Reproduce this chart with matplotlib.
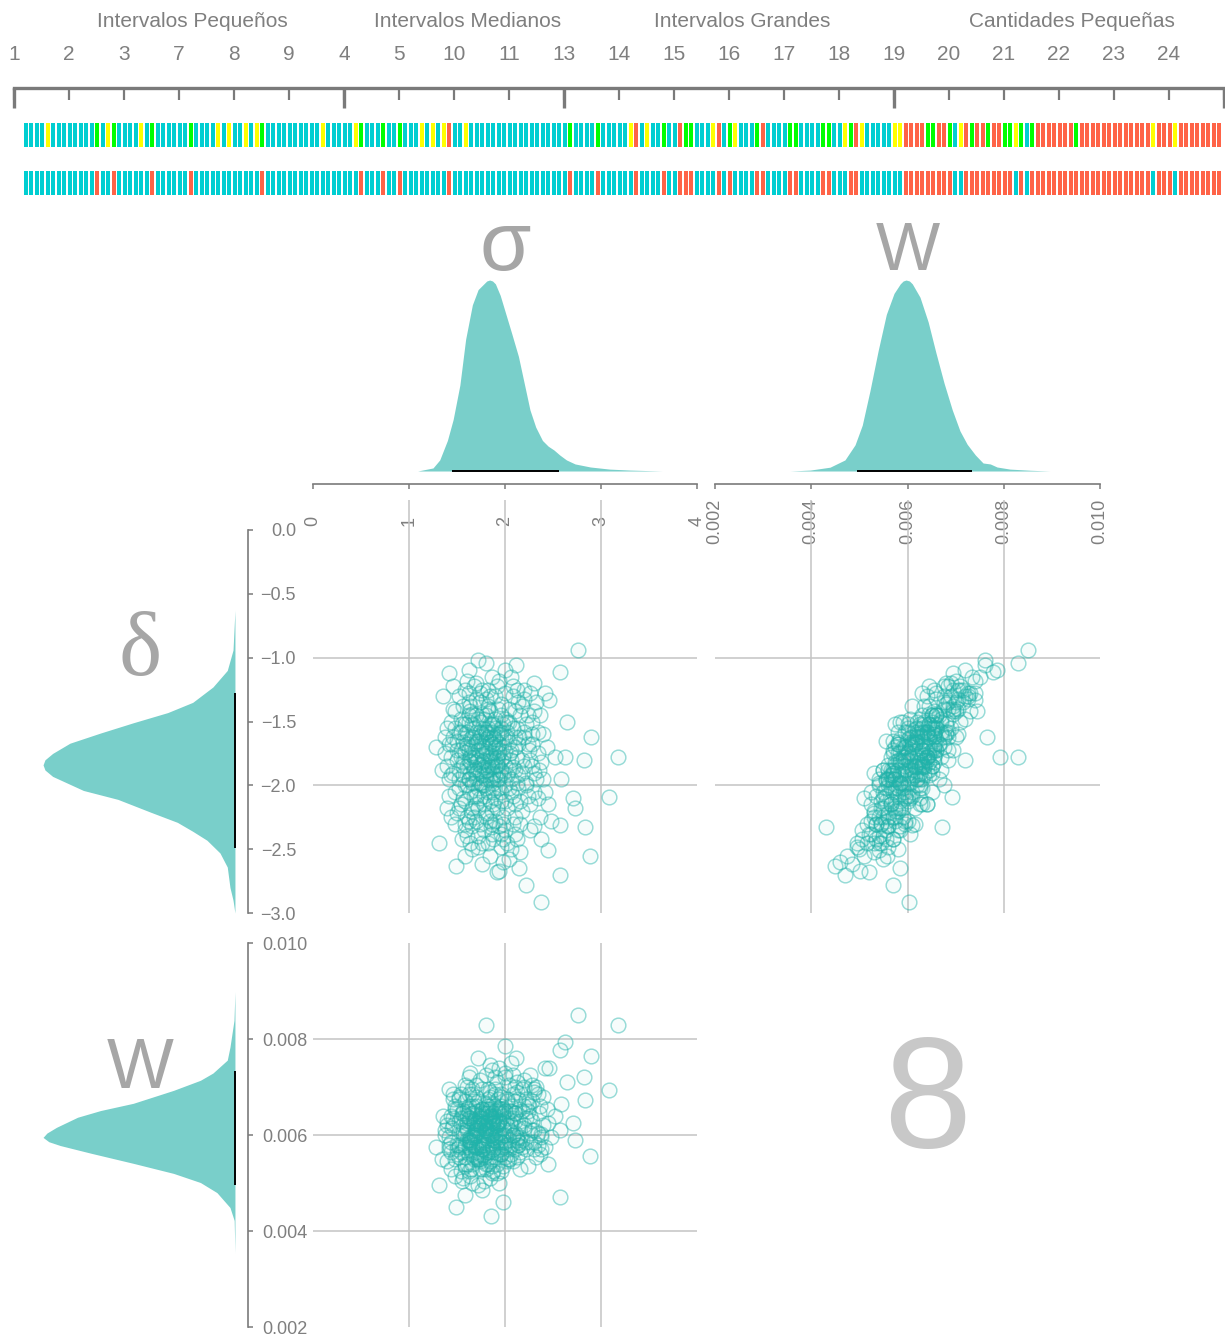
import numpy as np
import matplotlib
matplotlib.use("Agg")
import matplotlib.pyplot as plt
from matplotlib.transforms import blended_transform_factory

plt.rcParams["font.family"] = ["Liberation Sans", "DejaVu Sans"]

W_PX, H_PX = 1225, 1342

# ---------------- top strip: groups, ticks, per-case colour codes ----------------
group_names = ["Intervalos Pequeños", "Intervalos Medianos",
               "Intervalos Grandes", "Cantidades Pequeñas"]
group_edges = [0, 6, 10, 16, 22]
tick_labels = ["1", "2", "3", "7", "8", "9", "4", "5", "10", "11", "13",
               "14", "15", "16", "17", "18", "19", "20", "21", "22", "23", "24"]

row_top = ("CCCCYCCCCC" "CCCGCYGCCC" "CYCGCCCCCC" "GCCCCYCYCC" "YCYGCCCCCC"
           "CCCCYCCCCC" "YGCCCGCCGC" "CCYCYCYRCC" "YCCCCCCCCC" "CCCCCCCCCG"
           "CCCCGCCCCC" "YRCYCCGCCR" "GGCCCYRCGY" "CCCGRCCCCG" "GCCCCGGCCY"
           "GRYCCCCCYY" "RRRRGGRRGC" "YRGRRGRRGG" "YGCGRRRRRR" "RGRRRRRRRR"
           "RRRRRYRRRY" "RRRRRRRR")
row_bottom = ("CCCCCCCCCC" "CCCRCCRCCC" "CCCRCCCCCC" "RCCCCCCCCC" "CCCRCCCCCC"
              "CCCCCCCCCC" "CRCCCRCCRC" "CCCCCCCRCC" "CCCCCCCCCC" "CCCCCCCCCR"
              "CCCCRCCCCC" "CRCCCCRCCR" "RRCCCCRCRC" "CCCRRCCCCR" "RCCCCRRCCC"
              "RRCCCCCCCC" "RRRRRRRRRC" "CRRRRRRRRR" "CRCRRRRRRR" "RRRRRRRRRR"
              "RRRRRCRRRC" "RRRRRRRR")
stripe_colors = {"C": "#00CED1", "Y": "#FFFF00", "G": "#00FF00", "R": "#FF6347"}

# ---------------- posterior draws (sigma, delta, W in units of 1e-3) ----------------
# spread of the cloud, including the outlying draws
sigma_a = [1.85, 1.72, 1.95, 1.60, 2.05, 1.78, 1.90, 1.68, 2.12, 1.55,
           1.82, 1.98, 1.74, 2.20, 1.62, 1.88, 1.70, 2.02, 1.50, 1.93,
           1.80, 2.15, 1.65, 2.30, 1.58, 1.90, 1.76, 2.08, 1.45, 1.84,
           2.00, 1.70, 2.25, 1.52, 1.96, 1.62, 1.86, 2.10, 1.74, 1.40,
           2.35, 1.66, 1.92, 2.18, 1.56, 1.80, 2.04, 1.48, 1.78, 2.40,
           1.64, 1.98, 1.72, 2.26, 1.58, 1.88, 2.08, 1.44, 1.82, 2.22,
           1.68, 1.94, 1.54, 2.12, 1.76, 1.38, 2.30, 1.62, 1.90, 2.02,
           1.70, 2.45, 1.48, 1.86, 2.16, 1.60, 1.80, 2.06, 1.50, 1.96,
           1.74, 2.32, 1.42, 1.84, 2.20, 1.66, 1.92, 2.10, 1.56, 1.76,
           2.52, 1.34, 2.00, 1.68, 1.88, 2.14, 1.46, 2.38, 1.80, 1.60,
           2.06, 1.90, 1.52, 2.28, 1.72, 1.96, 1.64, 2.24, 1.82, 1.40,
           2.58, 1.70, 2.10, 1.86, 1.58, 2.42, 1.92, 1.78, 2.16, 1.54,
           1.98, 1.66, 2.34, 1.84, 1.44, 2.04, 1.74, 2.48, 1.62, 1.94,
           2.76, 3.18, 3.08, 2.89, 2.37, 1.80, 1.85, 2.57, 1.49, 1.31,
           2.62, 2.57, 2.11, 2.46, 2.83, 2.82, 1.94, 2.22, 2.71, 2.73,
           2.45, 2.57, 1.35, 1.28, 2.65, 1.72, 2.00, 2.90, 1.98, 2.30,
           1.55, 2.15, 1.42]
delta_a = [-1.80, -1.65, -1.92, -1.70, -1.75, -2.00, -1.55, -1.88, -1.98, -1.52,
           -1.62, -1.70, -2.10, -1.85, -1.95, -2.15, -1.45, -1.50, -1.80, -1.40,
           -2.25, -1.62, -2.20, -2.05, -1.60, -1.85, -1.72, -2.30, -1.68, -1.30,
           -2.12, -1.90, -1.72, -2.02, -1.58, -1.35, -2.38, -1.42, -1.58, -1.55,
           -1.88, -2.32, -1.22, -2.20, -1.85, -1.95, -1.88, -1.42, -1.48, -1.60,
           -1.78, -2.42, -2.48, -2.35, -1.25, -1.68, -1.30, -1.92, -1.38, -1.52,
           -2.08, -2.02, -2.15, -1.78, -1.82, -1.75, -1.42, -1.50, -2.28, -1.62,
           -1.20, -2.15, -2.30, -1.15, -2.52, -2.40, -1.58, -2.05, -1.65, -1.80,
           -1.35, -1.95, -2.08, -2.55, -1.32, -1.62, -1.95, -2.38, -1.38, -2.62,
           -1.78, -1.88, -1.48, -1.78, -2.05, -1.68, -1.22, -2.42, -1.88, -2.25,
           -1.15, -1.72, -1.95, -1.60, -2.18, -2.48, -1.42, -2.08, -1.25, -2.18,
           -1.95, -1.65, -1.88, -1.52, -2.55, -1.28, -2.68, -2.15, -1.45, -1.72,
           -2.30, -1.98, -1.75, -1.42, -1.50, -2.58, -1.90, -2.28, -1.10, -1.60,
           -0.94, -1.78, -2.09, -2.55, -2.91, -1.04, -2.33, -2.70, -2.63, -2.45,
           -1.78, -1.11, -1.06, -1.33, -2.33, -1.80, -2.67, -2.78, -2.10, -2.18,
           -2.51, -2.31, -1.30, -1.70, -1.50, -1.02, -1.10, -1.62, -2.60, -1.20,
           -2.42, -2.65, -1.12]
w_a = [6.00, 6.30, 5.85, 6.10, 6.25, 5.60, 6.50, 5.95, 5.90, 6.45,
       6.05, 6.40, 5.50, 6.15, 5.75, 5.65, 6.60, 6.20, 5.80, 6.75,
       5.40, 6.55, 5.30, 6.10, 6.70, 6.35, 5.70, 5.45, 6.15, 6.90,
       6.00, 6.25, 6.60, 5.55, 5.95, 6.85, 5.20, 7.00, 6.40, 6.30,
       6.45, 5.60, 7.10, 5.75, 6.50, 6.20, 5.70, 6.55, 6.25, 6.80,
       5.90, 5.35, 4.95, 5.85, 7.05, 6.65, 7.25, 5.65, 6.45, 6.35,
       5.80, 6.30, 5.25, 5.95, 6.55, 6.00, 6.95, 5.90, 5.55, 6.75,
       6.80, 6.25, 5.15, 7.35, 5.30, 5.40, 5.80, 6.50, 5.70, 6.85,
       7.15, 5.55, 5.95, 5.10, 6.60, 6.85, 5.40, 6.05, 6.10, 4.85,
       6.40, 5.50, 7.20, 6.70, 5.25, 5.80, 6.75, 5.70, 6.10, 5.90,
       7.50, 6.95, 6.30, 7.05, 6.15, 5.60, 7.30, 5.35, 6.55, 5.45,
       6.65, 5.55, 6.70, 6.00, 4.75, 7.40, 5.20, 6.40, 6.30, 6.85,
       6.15, 5.40, 5.80, 7.45, 5.85, 5.50, 5.30, 5.95, 7.20, 6.55,
       8.50, 8.29, 6.93, 5.57, 6.03, 8.30, 4.31, 4.70, 4.49, 4.95,
       7.93, 7.78, 7.60, 7.40, 6.72, 7.20, 5.01, 5.70, 6.25, 5.90,
       5.40, 6.10, 6.40, 5.75, 7.10, 7.60, 7.85, 7.65, 4.60, 6.90,
       5.05, 5.85, 6.95]
# dense centre of the cloud
sigma_b = [1.80, 1.92, 1.70, 1.86, 1.98, 1.76, 1.64, 2.06, 1.84, 1.72,
           1.94, 1.58, 2.00, 1.82, 1.68, 1.90, 2.10, 1.78, 1.62, 1.96,
           1.74, 1.88, 2.14, 1.66, 1.84, 1.52, 2.02, 1.80, 1.70, 1.92,
           1.60, 2.18, 1.86, 1.76, 1.98, 1.68, 1.84, 2.08, 1.56, 1.90,
           1.72, 1.80, 2.04, 1.64, 1.96, 1.78, 1.88, 2.12, 1.70, 1.82,
           1.58, 1.94, 2.00, 1.74, 1.86, 1.66, 2.22, 1.80, 1.92, 1.62,
           1.76, 2.06, 1.84, 1.70, 1.98, 1.54, 1.88, 2.16, 1.78, 1.90,
           1.68, 1.82, 2.02, 1.60, 1.94, 1.74, 1.86, 2.10, 1.72, 1.80,
           1.64, 1.96, 2.24, 1.84, 1.70, 1.90, 1.58, 2.04, 1.76, 1.88,
           1.66, 1.98, 1.82, 1.72, 2.08, 1.62, 1.86, 1.94, 1.78, 2.00,
           1.54, 1.80, 1.92, 1.68, 2.14, 1.74, 1.86, 1.96, 1.64, 1.82,
           2.20, 1.70, 1.90, 1.76, 1.84, 2.06, 1.60, 1.96, 1.78, 1.88,
           1.72, 2.02, 1.66, 1.92, 1.80, 1.56, 2.10, 1.84, 1.74, 1.98,
           1.62, 1.90, 1.82, 2.28, 1.70, 1.94, 1.86, 1.76, 2.04, 1.68,
           1.88]
delta_b = [-1.75, -1.85, -1.78, -1.68, -1.90, -1.92, -1.82, -1.80, -1.60, -2.02,
           -1.72, -1.74, -2.00, -1.88, -1.62, -1.64, -1.70, -2.08, -1.95, -1.55,
           -1.50, -1.98, -1.92, -1.70, -2.12, -1.88, -1.58, -1.45, -2.15, -2.18,
           -1.58, -1.80, -1.82, -1.66, -1.78, -1.86, -1.96, -2.08, -1.66, -1.48,
           -1.72, -2.22, -1.66, -2.05, -2.05, -1.56, -1.75, -1.55, -1.94, -1.70,
           -2.00, -1.95, -1.85, -1.84, -2.30, -1.52, -1.98, -1.64, -1.60, -1.80,
           -2.00, -1.95, -1.52, -1.58, -2.25, -1.78, -1.90, -2.12, -1.80, -1.80,
           -2.25, -1.40, -2.18, -1.68, -1.68, -1.98, -1.58, -1.62, -1.48, -1.92,
           -1.90, -1.88, -1.68, -1.76, -1.68, -2.10, -2.12, -1.50, -1.76, -1.62,
           -1.76, -1.62, -2.05, -1.88, -1.86, -1.45, -1.86, -2.32, -1.70, -1.74,
           -1.58, -1.58, -1.78, -1.98, -2.02, -1.62, -2.20, -1.45, -1.64, -1.84,
           -1.58, -2.08, -1.70, -1.44, -1.66, -1.72, -1.85, -2.12, -1.86, -1.52,
           -1.80, -1.92, -2.18, -1.84, -2.02, -1.92, -2.25, -1.78, -2.30, -1.52,
           -1.72, -1.92, -1.55, -1.85, -1.82, -1.75, -1.95, -1.60, -2.02, -1.55,
           -2.02]
w_b = [6.10, 5.95, 6.05, 6.35, 6.00, 5.70, 5.85, 6.20, 6.40, 5.75,
       6.30, 6.00, 5.80, 5.65, 6.25, 6.60, 6.45, 5.55, 5.60, 6.55,
       6.35, 6.05, 6.15, 5.95, 5.45, 5.80, 6.70, 6.65, 5.65, 5.85,
       6.40, 5.90, 6.25, 5.80, 6.55, 6.30, 5.55, 6.00, 6.20, 6.85,
       6.50, 5.30, 6.10, 5.95, 5.70, 6.15, 5.70, 6.90, 6.10, 6.75,
       5.40, 6.25, 6.50, 5.60, 5.35, 6.60, 5.85, 6.00, 6.20, 6.35,
       6.20, 5.60, 6.80, 6.00, 5.75, 5.65, 5.90, 5.65, 5.85, 6.40,
       5.50, 6.95, 5.50, 6.55, 6.05, 5.85, 6.30, 6.45, 6.70, 6.45,
       5.70, 5.60, 6.65, 6.55, 6.15, 5.95, 5.55, 6.50, 6.35, 6.45,
       6.45, 6.30, 5.90, 5.50, 6.35, 6.50, 6.15, 5.60, 5.95, 5.85,
       6.35, 6.55, 6.20, 6.00, 5.80, 6.20, 5.80, 6.60, 5.85, 6.30,
       6.20, 6.10, 5.90, 6.45, 6.15, 6.60, 6.15, 5.85, 6.05, 6.25,
       6.25, 6.35, 5.80, 5.75, 5.65, 6.05, 5.70, 6.40, 5.45, 6.45,
       6.30, 6.10, 6.60, 6.30, 5.75, 6.45, 5.75, 6.55, 5.90, 6.20,
       6.25]
# intermediate ring around the centre
sigma_c = [1.46, 2.26, 1.58, 2.18, 1.52, 2.36, 1.64, 2.28, 1.42, 2.40,
           1.70, 2.12, 1.48, 2.20, 1.60, 2.30, 1.54, 2.08, 1.44, 2.44,
           1.66, 2.02, 1.38, 2.34, 1.76, 1.96, 1.50, 2.24, 1.62, 2.16,
           1.46, 2.38, 1.72, 2.00, 1.56, 2.26, 1.40, 2.32, 1.68, 2.06,
           1.52, 2.14, 1.58, 2.22, 1.44, 2.42, 1.78, 1.90, 1.64, 2.28,
           1.50, 2.10, 1.82, 1.94, 1.56, 2.34, 1.70, 2.04, 1.48, 2.18,
           1.60, 2.26, 1.74, 1.88, 1.52, 2.30, 1.66, 2.00, 1.42, 2.20,
           1.84, 1.58, 2.12, 1.76, 1.96, 1.62, 2.36, 1.46, 2.08, 1.80]
delta_c = [-1.62, -1.80, -2.30, -1.38, -1.30, -2.25, -2.45, -1.50, -1.95, -1.95,
           -1.32, -2.42, -2.05, -1.25, -1.18, -2.32, -1.48, -1.22, -1.78, -1.70,
           -2.50, -2.45, -1.62, -1.58, -1.25, -2.38, -2.22, -1.45, -1.28, -2.30,
           -1.40, -1.82, -2.40, -1.28, -2.10, -2.15, -1.85, -1.35, -1.22, -2.50,
           -1.58, -1.35, -2.35, -2.00, -2.25, -2.05, -2.35, -1.30, -1.38, -1.68,
           -1.72, -2.15, -2.45, -1.18, -1.82, -2.10, -2.28, -1.40, -1.55, -1.90,
           -2.00, -1.28, -1.28, -2.42, -2.18, -1.90, -1.44, -2.35, -1.68, -1.62,
           -2.28, -1.52, -1.25, -2.45, -1.36, -2.28, -1.45, -1.90, -1.55, -1.32]
w_c = [6.20, 6.05, 5.35, 6.95, 6.75, 5.60, 5.15, 6.70, 5.70, 6.20,
       7.05, 5.55, 5.50, 7.15, 7.00, 5.85, 6.05, 6.85, 6.40, 6.55,
       5.00, 5.45, 6.10, 6.85, 6.95, 5.25, 5.60, 6.50, 6.60, 5.95,
       6.85, 5.95, 5.50, 7.30, 5.10, 6.40, 6.20, 7.00, 6.45, 5.80,
       6.80, 6.75, 5.80, 6.75, 5.30, 5.75, 5.05, 7.20, 6.35, 6.10,
       6.55, 6.30, 5.40, 7.40, 6.45, 6.05, 5.75, 7.05, 6.60, 6.50,
       6.25, 7.25, 6.30, 5.70, 5.75, 5.70, 6.95, 5.55, 5.80, 7.00,
       6.00, 5.75, 7.10, 5.30, 6.80, 5.25, 6.60, 6.35, 6.00, 7.25]

# ---------------- marginal densities (relative height, peak = 1) ----------------
sigma_grid = [1.09, 1.25, 1.32, 1.40, 1.46, 1.53, 1.59, 1.66, 1.72, 1.78, 1.81,
              1.84, 1.87, 1.90, 1.95, 2.01, 2.07, 2.14, 2.20, 2.26, 2.32, 2.39,
              2.45, 2.51, 2.57, 2.64, 2.73, 2.89, 3.09, 3.30, 3.64]
sigma_dens = [0.0, 0.016, 0.058, 0.16, 0.27, 0.45, 0.69, 0.87, 0.95, 0.98, 0.995,
              1.0, 0.995, 0.98, 0.92, 0.82, 0.72, 0.60, 0.46, 0.32, 0.23, 0.16,
              0.13, 0.11, 0.084, 0.058, 0.037, 0.021, 0.010, 0.005, 0.0]
sigma_ci = [1.45, 2.56]

w_grid = [3.56, 3.98, 4.39, 4.70, 4.91, 5.06, 5.22, 5.39, 5.56, 5.72, 5.85,
          5.91, 5.97, 6.04, 6.10, 6.26, 6.43, 6.59, 6.76, 6.93, 7.09, 7.24,
          7.41, 7.57, 7.72, 7.86, 8.13, 8.55, 8.96]
w_dens = [0.0, 0.005, 0.02, 0.058, 0.137, 0.24, 0.42, 0.63, 0.82, 0.93, 0.98,
          0.995, 1.0, 0.995, 0.98, 0.91, 0.78, 0.62, 0.46, 0.32, 0.21, 0.14,
          0.084, 0.042, 0.037, 0.021, 0.010, 0.004, 0.0]
w_ci = [4.95, 7.34]

delta_grid = [-0.63, -0.94, -1.10, -1.23, -1.35, -1.43, -1.51, -1.59, -1.67,
              -1.75, -1.80, -1.84, -1.88, -1.93, -2.04, -2.11, -2.21, -2.29,
              -2.36, -2.43, -2.53, -2.64, -2.80, -2.90, -3.00]
delta_dens = [0.0, 0.01, 0.04, 0.115, 0.22, 0.35, 0.53, 0.70, 0.86,
              0.95, 0.99, 1.0, 0.99, 0.95, 0.79, 0.61, 0.44, 0.30,
              0.22, 0.146, 0.078, 0.04, 0.026, 0.01, 0.0]
delta_ci = [-1.28, -2.49]

wl_grid = [8.98, 8.39, 7.83, 7.56, 7.29, 7.14, 6.93, 6.66, 6.51, 6.37, 6.16,
           6.04, 5.95, 5.86, 5.78, 5.62, 5.41, 5.20, 5.01, 4.80, 4.49, 4.22, 3.55]
wl_dens = [0.0, 0.005, 0.026, 0.04, 0.115, 0.18, 0.32, 0.53, 0.70, 0.82, 0.93,
           0.98, 1.0, 0.97, 0.91, 0.75, 0.53, 0.32, 0.18, 0.094, 0.026, 0.004, 0.0]
wl_ci = [4.95, 7.33]

sigma_ticks = [0, 1, 2, 3, 4]
w_ticks = [0.002, 0.004, 0.006, 0.008, 0.010]
w_tick_labels = ["0.002", "0.004", "0.006", "0.008", "0.010"]
delta_ticks = [0.0, -0.5, -1.0, -1.5, -2.0, -2.5, -3.0]
delta_tick_labels = ["0.0", "\u22120.5", "\u22121.0", "\u22121.5", "\u22122.0",
                     "\u22122.5", "\u22123.0"]
sigma_grid_lines = [1, 2, 3]
w_grid_lines = [0.004, 0.006, 0.008]
delta_grid_lines = [-1, -2]

# ---------------- styling ----------------
AXIS_GRAY = "#7a7a7a"
TEXT_GRAY = "#7f7f7f"
GRID_GRAY = "#c4c4c4"
FILL = "#79cfca"
POINT_EDGE = (0.125, 0.70, 0.667, 0.46)
POINT_FACE = (0.125, 0.70, 0.667, 0.04)
LABEL_GRAY = "#a6a6a6"

fig = plt.figure(figsize=(W_PX / 100, H_PX / 100), dpi=100)


def px_axes(x0, y0, x1, y1):
    return fig.add_axes([x0 / W_PX, 1 - y1 / H_PX, (x1 - x0) / W_PX, (y1 - y0) / H_PX])


# ---------------- top strip ----------------
ax_top = px_axes(14, 88, 1224, 195)
ax_top.set_xlim(group_edges[0], group_edges[-1])
ax_top.set_ylim(0, 4.46)
for s in ["left", "right", "bottom"]:
    ax_top.spines[s].set_visible(False)
ax_top.spines["top"].set_color(AXIS_GRAY)
ax_top.spines["top"].set_linewidth(2.4)
ax_top.xaxis.tick_top()
ax_top.set_xticks(np.arange(len(tick_labels) + 1))
ax_top.set_xticklabels(tick_labels + [""])
ax_top.set_xticks(group_edges, minor=True)
ax_top.xaxis.remove_overlapping_locs = False
ax_top.tick_params(axis="x", which="major", direction="in", length=8.6, width=1.6,
                   color=AXIS_GRAY, labelsize=15, labelcolor=TEXT_GRAY, pad=17)
ax_top.tick_params(axis="x", which="minor", direction="in", length=14.4, width=2.4,
                   color=AXIS_GRAY)
ax_top.set_yticks([])

trans = blended_transform_factory(ax_top.transData, ax_top.transAxes)
for name, e0, e1 in zip(group_names, group_edges[:-1], group_edges[1:]):
    ax_top.text((e0 + e1) / 2 + 0.24, 1.57, name, transform=trans, ha="center",
                va="baseline", fontsize=15, color=TEXT_GRAY)

case_pos = 0.21 + 0.1 * np.arange(len(row_top))
ax_top.bar(case_pos, 1, bottom=2, width=0.074, linewidth=0,
           color=[stripe_colors[c] for c in row_top])
ax_top.bar(case_pos, 1, bottom=0, width=0.074, linewidth=0,
           color=[stripe_colors[c] for c in row_bottom])

# ---------------- top marginal densities ----------------
def top_density(ax, grid, dens, ci, xlim, ticks, labels, symbol, sym_kw):
    ax.fill_between(grid, 0, dens, color=FILL, linewidth=0)
    ax.plot(ci, [0, 0], color="black", lw=1.4, solid_capstyle="butt")
    ax.set_xlim(*xlim)
    ax.set_ylim(-0.068, 1.262)
    for s in ["left", "right", "top"]:
        ax.spines[s].set_visible(False)
    ax.spines["bottom"].set_color(AXIS_GRAY)
    ax.spines["bottom"].set_linewidth(1.2)
    ax.set_xticks(ticks)
    ax.set_xticklabels(labels, rotation=90)
    ax.tick_params(axis="x", direction="out", length=3.6, width=1.1, color=AXIS_GRAY,
                   labelsize=13, labelcolor=TEXT_GRAY, pad=23)
    for lab in ax.get_xticklabels():
        lab.set_verticalalignment("center")
    ax.set_yticks([])
    ax.text(0.5, 0.843, symbol, transform=ax.transAxes, ha="center", va="baseline",
            color=LABEL_GRAY, **sym_kw)


ax_sig = px_axes(313, 230, 697, 484)
top_density(ax_sig, sigma_grid, sigma_dens, sigma_ci, (0, 4), sigma_ticks,
            [str(t) for t in sigma_ticks], "\u03c3", dict(fontsize=60))

ax_wt = px_axes(715, 230, 1100, 484)
top_density(ax_wt, np.array(w_grid) * 1e-3, w_dens, np.array(w_ci) * 1e-3,
            (0.002, 0.010), w_ticks, w_tick_labels, "W", dict(fontsize=49))

# ---------------- left marginal densities ----------------
def left_density(ax, grid, dens, ci, ylim, ticks, labels, ha, pad, symbol, sym_kw):
    ax.fill_betweenx(grid, 0, dens, color=FILL, linewidth=0)
    ax.plot([0, 0], ci, color="black", lw=1.4, solid_capstyle="butt")
    ax.set_xlim(1.068, -0.068)
    ax.set_ylim(*ylim)
    for s in ["left", "bottom", "top"]:
        ax.spines[s].set_visible(False)
    ax.spines["right"].set_color(AXIS_GRAY)
    ax.spines["right"].set_linewidth(1.2)
    ax.yaxis.tick_right()
    ax.set_yticks(ticks)
    ax.set_yticklabels(labels)
    ax.tick_params(axis="y", direction="out", length=3.6, width=1.1, color=AXIS_GRAY,
                   labelsize=13, labelcolor=TEXT_GRAY, pad=pad)
    for lab in ax.get_yticklabels():
        lab.set_horizontalalignment(ha)
    ax.set_xticks([])
    ax.text(0.505, 0.622, symbol, transform=ax.transAxes, ha="center", va="baseline",
            color=LABEL_GRAY, **sym_kw)


ax_dl = px_axes(30, 530, 248, 913)
left_density(ax_dl, delta_grid, delta_dens, delta_ci, (-3, 0), delta_ticks,
             delta_tick_labels, "right", 31, "\u03b4",
             dict(fontsize=66, family=["Liberation Serif", "DejaVu Serif"]))

ax_wl = px_axes(30, 943, 248, 1327)
left_density(ax_wl, np.array(wl_grid) * 1e-3, wl_dens, np.array(wl_ci) * 1e-3,
             (0.002, 0.010), w_ticks, w_tick_labels, "left", 6.5, "W",
             dict(fontsize=51))

# ---------------- scatter panels ----------------
sigma = np.array(sigma_a + sigma_b + sigma_c)
delta = np.array(delta_a + delta_b + delta_c)
w_vals = np.array(w_a + w_b + w_c) * 1e-3


def scatter_panel(ax, x, y, xlim, ylim, vlines, hlines):
    for v in vlines:
        ax.axvline(v, color=GRID_GRAY, lw=1.1, zorder=0)
    for h in hlines:
        ax.axhline(h, color=GRID_GRAY, lw=1.1, zorder=0)
    ax.scatter(x, y, s=112, facecolors=[POINT_FACE], edgecolors=[POINT_EDGE],
               linewidths=1.05, clip_on=False, zorder=2)
    ax.set_xlim(*xlim)
    ax.set_ylim(*ylim)
    ax.axis("off")


ax_sd = px_axes(313, 500, 697, 913)
scatter_panel(ax_sd, sigma, delta, (0, 4), (-3, 0.235), sigma_grid_lines, delta_grid_lines)

ax_wd = px_axes(715, 500, 1100, 913)
scatter_panel(ax_wd, w_vals, delta, (0.002, 0.010), (-3, 0.235), w_grid_lines,
              delta_grid_lines)

ax_sw = px_axes(313, 943, 697, 1327)
scatter_panel(ax_sw, sigma, w_vals, (0, 4), (0.002, 0.010), sigma_grid_lines, w_grid_lines)

# empty cell with the number of cases shown
ax_n = px_axes(715, 943, 1100, 1327)
ax_n.axis("off")
ax_n.text(0.551, 0.469, "8", transform=ax_n.transAxes, ha="center", va="baseline",
          fontsize=114, color="#c8c8c8")

fig.savefig("out.png", dpi=100)
